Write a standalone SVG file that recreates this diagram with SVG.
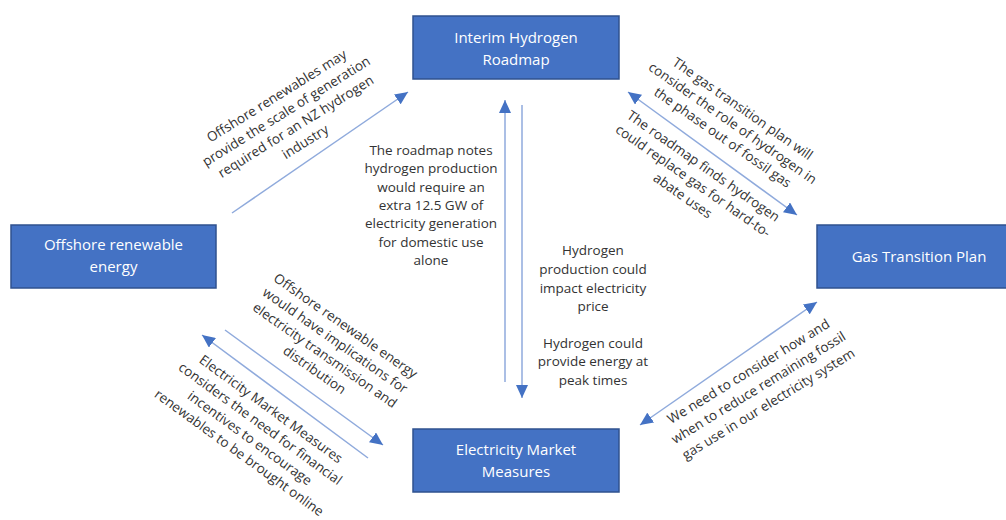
<svg xmlns="http://www.w3.org/2000/svg" width="1006" height="520" viewBox="0 0 1006 520">
<style>
.box{fill:#4472C4;stroke:#2F528F;stroke-width:1.5}
.bt{font-family:"Open Sans","Liberation Sans",sans-serif;font-size:15px;fill:#ffffff;text-anchor:middle}
.t{font-family:"Open Sans","Liberation Sans",sans-serif;font-size:13.5px;fill:#333333;text-anchor:middle}
.c{stroke:#8FAADC;stroke-width:1.5;fill:none}
</style>
<defs>
<marker id="ah" markerUnits="userSpaceOnUse" markerWidth="14" markerHeight="12" refX="13" refY="6" orient="auto-start-reverse">
<path d="M0,0 L13,6 L0,12 z" fill="#4472C4"/>
</marker>
</defs>
<rect width="1006" height="520" fill="#ffffff"/>
<g id="connectors">
<line class="c" x1="232" y1="213" x2="408" y2="92" marker-end="url(#ah)"/>
<line class="c" x1="505" y1="382" x2="505" y2="100" marker-end="url(#ah)"/>
<line class="c" x1="522" y1="105" x2="522" y2="398" marker-end="url(#ah)"/>
<line class="c" x1="628" y1="92" x2="797" y2="215" marker-start="url(#ah)" marker-end="url(#ah)"/>
<line class="c" x1="817" y1="302" x2="640" y2="425" marker-start="url(#ah)" marker-end="url(#ah)"/>
<line class="c" x1="225" y1="330" x2="383" y2="445" marker-end="url(#ah)"/>
<line class="c" x1="368" y1="458" x2="202" y2="335" marker-end="url(#ah)"/>
</g>
<g id="offshore">
<rect class="box" x="11" y="225" width="205" height="63"/>
<text class="bt" x="113.5" y="250">Offshore renewable</text>
<text class="bt" x="113.5" y="272">energy</text>
</g>
<g id="roadmap">
<rect class="box" x="413" y="16" width="206" height="63"/>
<text class="bt" x="516" y="43">Interim Hydrogen</text>
<text class="bt" x="516" y="65">Roadmap</text>
</g>
<g id="gas">
<rect class="box" x="817" y="225" width="206" height="63"/>
<text class="bt" x="919" y="262">Gas Transition Plan</text>
</g>
<g id="electricity">
<rect class="box" x="413" y="429" width="206" height="63"/>
<text class="bt" x="516" y="455">Electricity Market</text>
<text class="bt" x="516" y="477">Measures</text>
</g>
<g id="labels">
<g transform="translate(291,119) rotate(-32)">
<text class="t" x="0" y="-22.5">Offshore renewables may</text>
<text class="t" x="0" y="-4.5">provide the scale of generation</text>
<text class="t" x="0" y="13.5">required for an NZ hydrogen</text>
<text class="t" x="0" y="31.5">industry</text>
</g>
<g transform="translate(732.6,123.2) rotate(35)">
<text class="t" x="0" y="-13">The gas transition plan will</text>
<text class="t" x="0" y="4.5">consider the role of hydrogen in</text>
<text class="t" x="0" y="22">the phase out of fossil gas</text>
</g>
<g transform="translate(693,181) rotate(35)">
<text class="t" x="0" y="-13.5">The roadmap finds hydrogen</text>
<text class="t" x="0" y="4.5">could replace gas for hard-to-</text>
<text class="t" x="0" y="22.5">abate uses</text>
</g>
<g transform="translate(758.5,387.8) rotate(-31.5)">
<text class="t" x="0" y="-14.5">We need to consider how and</text>
<text class="t" x="0" y="4.5">when to reduce remaining fossil</text>
<text class="t" x="0" y="23.5">gas use in our electricity system</text>
</g>
<g transform="translate(330,348) rotate(35)">
<text class="t" x="0" y="-22.5">Offshore renewable energy</text>
<text class="t" x="0" y="-4.5">would have implications for</text>
<text class="t" x="0" y="13.5">electricity transmission and</text>
<text class="t" x="0" y="31.5">distribution</text>
</g>
<g transform="translate(255,431) rotate(36)">
<text class="t" x="0" y="-22.5">Electricity Market Measures</text>
<text class="t" x="0" y="-4.5">considers the need for financial</text>
<text class="t" x="0" y="13.5">incentives to encourage</text>
<text class="t" x="0" y="31.5">renewables to be brought online</text>
</g>
<g>
<text class="t" x="431" y="155">The roadmap notes</text>
<text class="t" x="431" y="173">hydrogen production</text>
<text class="t" x="431" y="192">would require an</text>
<text class="t" x="431" y="210">extra 12.5 GW of</text>
<text class="t" x="431" y="228">electricity generation</text>
<text class="t" x="431" y="247">for domestic use</text>
<text class="t" x="431" y="265">alone</text>
</g>
<g>
<text class="t" x="593" y="255">Hydrogen</text>
<text class="t" x="593" y="274">production could</text>
<text class="t" x="593" y="293">impact electricity</text>
<text class="t" x="593" y="311">price</text>
<text class="t" x="593" y="348">Hydrogen could</text>
<text class="t" x="593" y="366">provide energy at</text>
<text class="t" x="593" y="385">peak times</text>
</g>
</g>
</svg>
